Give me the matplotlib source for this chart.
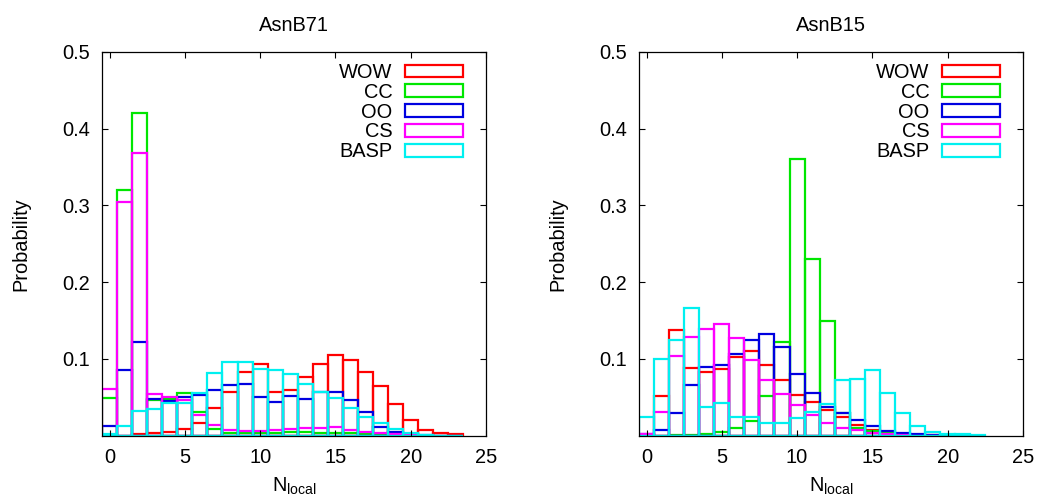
import numpy as np
import matplotlib
matplotlib.use("Agg")
from matplotlib import pyplot as plt

plt.rcParams['font.family'] = ['Liberation Sans', 'DejaVu Sans']

# series names and colours (gnuplot style)
names = ['WOW', 'CC', 'OO', 'CS', 'BASP']
colors = ['#ff0000', '#00e600', '#0000e0', '#ff00ff', '#00f0f0']

# AsnB71 : probability per N_local bin (bins 0..23)
b71_wow = [0.000, 0.000, 0.002, 0.004, 0.005, 0.009, 0.016, 0.036, 0.057, 0.083,
           0.093, 0.057, 0.059, 0.076, 0.093, 0.105, 0.099, 0.083, 0.065, 0.041,
           0.020, 0.0075, 0.003, 0.002]
b71_cc = [0.049, 0.320, 0.420, 0.047, 0.048, 0.055, 0.031, 0.009, 0.004, 0.004,
          0.004, 0.004, 0.005, 0.005, 0.004, 0.004, 0.003, 0.002, 0.001, 0.001,
          0.000, 0.000, 0.000, 0.000]
b71_oo = [0.013, 0.085, 0.122, 0.048, 0.045, 0.051, 0.053, 0.059, 0.066, 0.068,
          0.050, 0.044, 0.052, 0.048, 0.057, 0.057, 0.046, 0.031, 0.011, 0.005,
          0.002, 0.001, 0.000, 0.000]
b71_cs = [0.061, 0.304, 0.369, 0.054, 0.051, 0.047, 0.027, 0.014, 0.007, 0.006,
          0.006, 0.007, 0.009, 0.010, 0.010, 0.011, 0.007, 0.005, 0.003, 0.002,
          0.001, 0.000, 0.000, 0.000]
b71_basp = [0.002, 0.012, 0.032, 0.035, 0.043, 0.043, 0.056, 0.082, 0.096, 0.096,
            0.087, 0.085, 0.081, 0.068, 0.057, 0.049, 0.036, 0.025, 0.016, 0.009,
            0.004, 0.001, 0.000, 0.000]

# AsnB15 : bins 0..22
b15_wow = [0.001, 0.052, 0.138, 0.088, 0.083, 0.087, 0.103, 0.111, 0.092, 0.072,
           0.053, 0.044, 0.034, 0.024, 0.014, 0.0075, 0.004, 0.002, 0.001, 0.0005,
           0.000, 0.000, 0.000]
b15_cc = [0.000, 0.000, 0.001, 0.001, 0.002, 0.005, 0.010, 0.019, 0.052, 0.122,
          0.361, 0.230, 0.150, 0.030, 0.010, 0.006, 0.003, 0.001, 0.000, 0.000,
          0.000, 0.000, 0.000]
b15_oo = [0.002, 0.007, 0.029, 0.066, 0.090, 0.092, 0.106, 0.125, 0.133, 0.115,
          0.080, 0.055, 0.038, 0.029, 0.021, 0.013, 0.006, 0.004, 0.002, 0.001,
          0.000, 0.000, 0.000]
b15_cs = [0.002, 0.031, 0.104, 0.129, 0.139, 0.146, 0.127, 0.099, 0.072, 0.054,
          0.040, 0.027, 0.017, 0.010, 0.0075, 0.004, 0.002, 0.001, 0.000, 0.000,
          0.000, 0.000, 0.000]
b15_basp = [0.024, 0.100, 0.125, 0.167, 0.038, 0.043, 0.025, 0.024, 0.017, 0.017,
            0.023, 0.031, 0.041, 0.072, 0.074, 0.085, 0.056, 0.030, 0.0126, 0.005,
            0.0026, 0.002, 0.001]

panels = [
    ('AsnB71', [b71_wow, b71_cc, b71_oo, b71_cs, b71_basp]),
    ('AsnB15', [b15_wow, b15_cc, b15_oo, b15_cs, b15_basp]),
]

fs = 14.4
fig = plt.figure(figsize=(10.4, 4.98), dpi=100)
lefts = [0.0981, 0.6144]

for (title, series), left in zip(panels, lefts):
    ax = fig.add_axes([left, 0.1251, 0.3692, 0.7705])
    for name, col, vals in zip(names, colors, series):
        x = np.arange(len(vals))
        ax.bar(x, vals, width=1.0, fill=False, edgecolor=col, linewidth=1.6,
               label=name)
    ax.set_xlim(-0.5, 25)
    ax.set_ylim(0, 0.5)
    ax.set_xticks([0, 5, 10, 15, 20, 25])
    ax.set_yticks([0.1, 0.2, 0.3, 0.4, 0.5])
    ax.set_yticklabels(['0.1', '0.2', '0.3', '0.4', '0.5'])
    ax.tick_params(direction='in', top=True, right=True, length=4,
                   labelsize=fs)
    ax.tick_params(axis='x', pad=8.5)
    ax.tick_params(axis='y', pad=8.5)
    for sp in ax.spines.values():
        sp.set_linewidth(0.9)
    ax.set_title(title, fontsize=fs, pad=15)
    ax.set_xlabel(r'N$_{\mathregular{local}}$', fontsize=fs, labelpad=6.5)
    ax.set_ylabel('Probability', fontsize=fs, labelpad=23)
    ax.legend(loc='upper right', bbox_to_anchor=(0.96, 0.992), frameon=False,
              markerfirst=False, fontsize=fs, handlelength=2.9,
              handleheight=0.6, handletextpad=0.6, labelspacing=0.04,
              borderaxespad=0)

fig.savefig('out.png', dpi=100)
